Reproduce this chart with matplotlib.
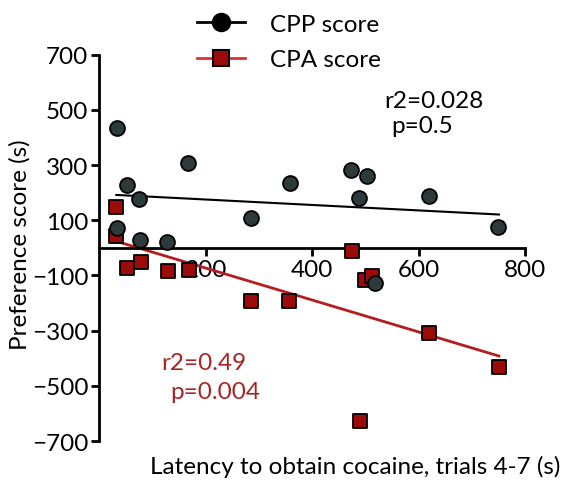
import matplotlib
matplotlib.use("Agg")
import matplotlib.pyplot as plt
from matplotlib.lines import Line2D

plt.rcParams['font.family'] = ['Lato', 'DejaVu Sans']

# CPP score (circles)
cpp_x = [33, 53, 75, 167, 33, 77, 128, 285, 358, 473, 503, 488, 620, 749, 518]
cpp_y = [435, 227, 176, 309, 72, 28, 22, 109, 234, 284, 260, 181, 187, 75, -127]
# CPA score (squares)
cpa_x = [32, 32, 53, 78, 130, 168, 286, 357, 474, 499, 512, 619, 751, 490]
cpa_y = [147, 42, -72, -51, -84, -79, -193, -193, -12, -117, -103, -308, -432, -626]
# regression lines (endpoints)
fit_x = [32, 751]
cpp_fit = [192, 121]
cpa_fit = [24, -392]

xticks = [200, 400, 600, 800]
yticks = [-700, -500, -300, -100, 100, 300, 500, 700]

DARK = '#2d3a3c'
RED_FILL = '#9c0a0a'
RED_LINE = '#b41e1e'
RED_TEXT = '#a82424'
FS = 17.5

fig = plt.figure(figsize=(5.68, 4.89), dpi=100)
ax = fig.add_axes([0.1748, 0.0961, 0.7495, 0.7898])
ax.set_xlim(0, 800)
ax.set_ylim(-700, 700)

ax.plot(fit_x, cpp_fit, color='black', lw=1.5, zorder=2)
ax.plot(fit_x, cpa_fit, color=RED_LINE, lw=2, zorder=2)
ax.scatter(cpa_x, cpa_y, s=115, marker='s', facecolor=RED_FILL, edgecolor='black',
           linewidths=1.3, zorder=3, clip_on=False)
ax.scatter(cpp_x, cpp_y, s=115, marker='o', facecolor=DARK, edgecolor='black',
           linewidths=1.3, zorder=4, clip_on=False)

for s in ['top', 'right']:
    ax.spines[s].set_visible(False)
ax.spines['bottom'].set_position(('data', 0))
ax.spines['left'].set_linewidth(2)
ax.spines['bottom'].set_linewidth(2)
ax.set_xticks(xticks)
ax.set_yticks(yticks)
ax.tick_params(axis='both', labelsize=FS, width=2, length=6, direction='out', pad=2)

ax.text(536, 533, 'r2=0.028', fontsize=FS, color='black', va='center', ha='left')
ax.text(549, 442, 'p=0.5', fontsize=FS, color='black', va='center', ha='left')
ax.text(117, -417, 'r2=0.49', fontsize=FS, color=RED_TEXT, va='center', ha='left')
ax.text(133, -522, 'p=0.004', fontsize=FS, color=RED_TEXT, va='center', ha='left')

fig.text(20/568, 1-245/489, 'Preference score (s)', rotation=90, fontsize=FS,
         ha='center', va='center')
fig.text(355/568, 1-467/489, 'Latency to obtain cocaine, trials 4-7 (s)', fontsize=FS,
         ha='center', va='center')

handles = [
    Line2D([0], [0], color='black', lw=2, marker='o', markersize=13,
           markerfacecolor='black', markeredgecolor='black'),
    Line2D([0], [0], color='#e03030', lw=2, marker='s', markersize=12,
           markerfacecolor=RED_FILL, markeredgecolor='black', markeredgewidth=1.5),
]
fig.legend(handles, ['CPP score', 'CPA score'], loc='center left',
           bbox_to_anchor=(175/568, 1-43/489), frameon=False, fontsize=FS,
           handlelength=2.0, handletextpad=1.0, labelspacing=0.6)

fig.savefig('out.png', dpi=100)
